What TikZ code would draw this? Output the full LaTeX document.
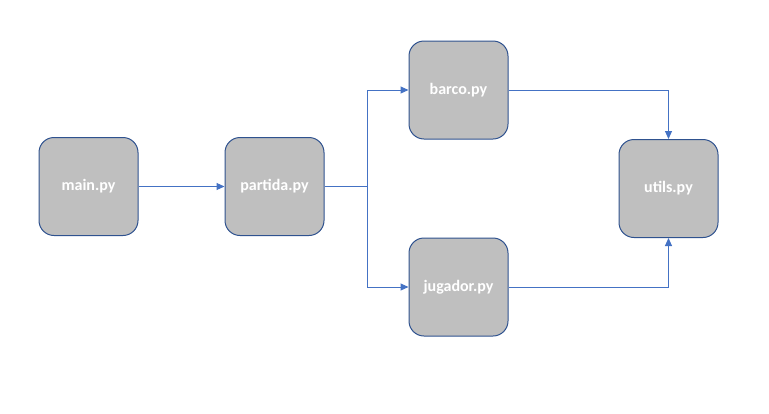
\documentclass[tikz,border=0pt]{standalone}
\usepackage{fontspec}
\setmainfont{Carlito}
\usetikzlibrary{arrows.meta}
\definecolor{boxgray}{HTML}{BFBFBF}
\definecolor{boxedge}{HTML}{2F528F}
\definecolor{linkblue}{HTML}{4472C4}
\tikzset{
  modulo/.style={draw=boxedge,fill=boxgray,line width=1pt,rounded corners=15pt,
    minimum width=99pt,minimum height=98pt,inner sep=0pt,
    text=white,font=\fontsize{16}{19}\selectfont\bfseries},
  enlace/.style={draw=linkblue,line width=1pt,-{Triangle[length=8pt,width=7pt]}}
}
\begin{document}
\begin{tikzpicture}[x=1pt,y=-1pt]
\useasboundingbox (0,0) rectangle (769,413);
% modulos
\node[modulo] (main) at (88.5,186.5) {main.py};
\node[modulo] (partida) at (274.5,186.5) {partida.py};
\node[modulo] (barco) at (458.5,90) {barco.py};
\node[modulo] (jugador) at (458.5,287) {jugador.py};
\node[modulo] (utils) at (668.5,188.5) {utils.py};
\coordinate (split) at (367,186.5);
% enlaces
\draw[enlace] (main) -- (partida);
\draw[draw=linkblue,line width=1pt] (partida) -- (split);
\draw[enlace] (split) |- (barco);
\draw[enlace] (split) |- (jugador);
\draw[enlace] (barco) -| (utils);
\draw[enlace] (jugador) -| (utils);
\end{tikzpicture}
\end{document}
